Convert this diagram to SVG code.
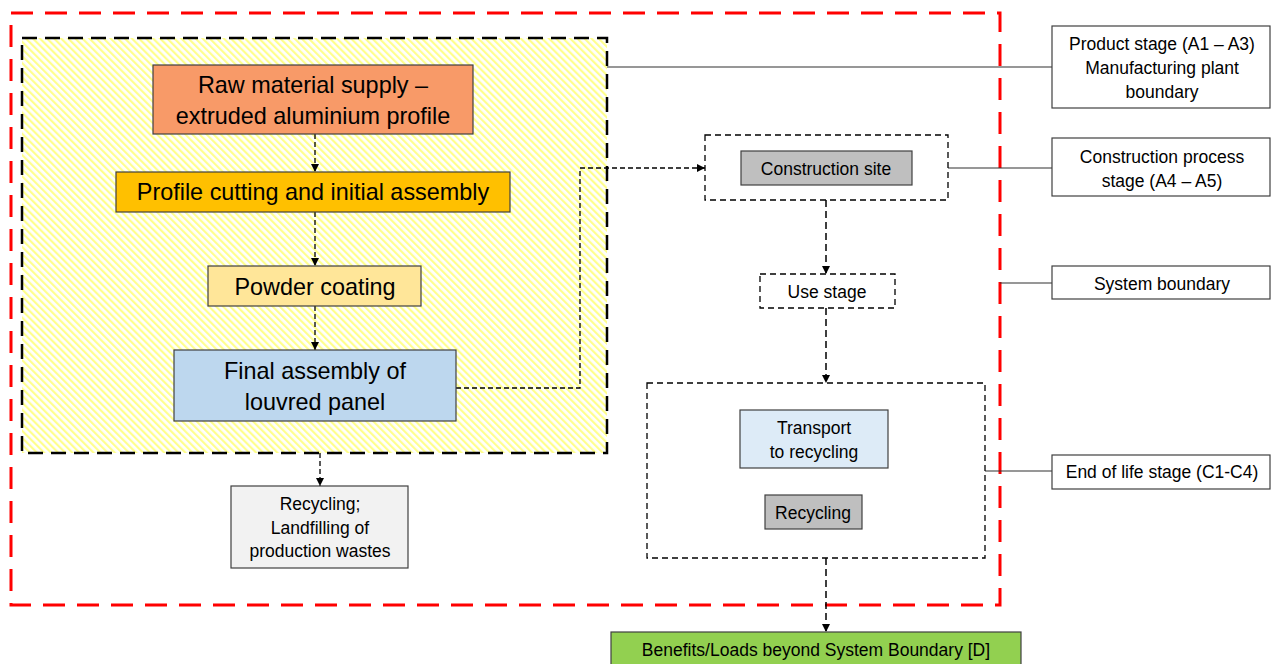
<svg xmlns="http://www.w3.org/2000/svg" width="1271" height="664" viewBox="0 0 1271 664">
<style>
  text { font-family: "Liberation Sans", Arial, sans-serif; fill: #000; text-anchor: middle; }
  .big { font-size: 23.4px; }
  .sm { font-size: 17.5px; }
  .box { stroke: #404040; stroke-width: 1.2; }
  .dbox { fill: #fff; stroke: #000; stroke-width: 1.3; stroke-dasharray: 6 4; }
  .arr { fill: none; stroke: #000; stroke-width: 1.3; stroke-dasharray: 5 3; marker-end: url(#ah); }
  .arr2 { fill: none; stroke: #000; stroke-width: 1.5; stroke-dasharray: 7 4; marker-end: url(#ah); }
  .lead { fill: none; stroke: #303030; stroke-width: 1.1; }
</style>
<defs>
  <pattern id="hatch" patternUnits="userSpaceOnUse" width="5" height="5" patternTransform="rotate(-45)">
    <rect width="5" height="5" fill="#ffffff"/>
    <rect x="0" y="0" width="2.2" height="5" fill="#FFFF8C"/>
  </pattern>
  <marker id="ah" viewBox="0 0 10 10" refX="10" refY="5" markerWidth="8" markerHeight="8" markerUnits="userSpaceOnUse" orient="auto">
    <path d="M0,0 L10,5 L0,10 Z" fill="#000"/>
  </marker>
</defs>
<rect width="1271" height="664" fill="#fff"/>

<g id="system-boundary">
  <rect x="11" y="13" width="989" height="592" fill="none" stroke="#FF0000" stroke-width="3" stroke-dasharray="22 12"/>
</g>

<g id="plant-boundary">
  <rect x="22" y="38" width="585" height="415" fill="url(#hatch)" stroke="#000" stroke-width="2.5" stroke-dasharray="15 8"/>
</g>

<g id="connectors">
  <path class="arr" d="M315,134 V172"/>
  <path class="arr" d="M315,212 V266"/>
  <path class="arr" d="M315,306 V350"/>
  <path class="arr" d="M456,388 H580 V168 H705"/>
  <path class="arr2" d="M826,200 V274"/>
  <path class="arr2" d="M826,308 V383"/>
  <path class="arr2" d="M826,558 V632"/>
  <path class="arr" d="M320,453 V486"/>
  <path class="lead" d="M607,67 H1052"/>
  <path class="lead" d="M948,168 H1052"/>
  <path class="lead" d="M1000,283 H1052"/>
  <path class="lead" d="M985,471 H1052"/>
</g>

<g id="raw-material">
  <rect class="box" x="153" y="65" width="320" height="69" fill="#F89A68"/>
  <text class="big" x="313" y="93">Raw material supply –</text>
  <text class="big" x="313" y="124">extruded aluminium profile</text>
</g>
<g id="profile-cutting">
  <rect class="box" x="116" y="172" width="394" height="40" fill="#FFC000"/>
  <text class="big" x="313" y="200">Profile cutting and initial assembly</text>
</g>
<g id="powder-coating">
  <rect class="box" x="208" y="266" width="213" height="40" fill="#FFE699"/>
  <text class="big" x="315" y="295">Powder coating</text>
</g>
<g id="final-assembly">
  <rect class="box" x="174" y="350" width="282" height="71" fill="#BDD7EE"/>
  <text class="big" x="315" y="379">Final assembly of</text>
  <text class="big" x="315" y="410">louvred panel</text>
</g>
<g id="production-wastes">
  <rect class="box" x="231" y="486" width="177" height="82" fill="#F2F2F2"/>
  <text class="sm" x="320" y="510">Recycling;</text>
  <text class="sm" x="320" y="534">Landfilling of</text>
  <text class="sm" x="320" y="557">production wastes</text>
</g>

<g id="construction-stage">
  <rect class="dbox" x="705" y="135" width="243" height="65"/>
  <rect class="box" x="741" y="151" width="171" height="34" fill="#BFBFBF"/>
  <text class="sm" x="826" y="175">Construction site</text>
</g>
<g id="use-stage">
  <rect class="dbox" x="760" y="274" width="135" height="34"/>
  <text class="sm" x="827" y="298">Use stage</text>
</g>
<g id="end-of-life">
  <rect class="dbox" x="647" y="383" width="338" height="175"/>
  <rect class="box" x="740" y="410" width="148" height="58" fill="#DDEBF7"/>
  <text class="sm" x="814" y="434">Transport</text>
  <text class="sm" x="814" y="458">to recycling</text>
  <rect class="box" x="765" y="495" width="97" height="34" fill="#BFBFBF"/>
  <text class="sm" x="813" y="519">Recycling</text>
</g>
<g id="benefits">
  <rect class="box" x="611" y="632" width="410" height="40" fill="#92D050"/>
  <text class="sm" x="816" y="656">Benefits/Loads beyond System Boundary [D]</text>
</g>

<g id="label-product">
  <rect class="box" x="1052" y="26" width="218" height="82" fill="#fff"/>
  <text class="sm" x="1162" y="50">Product stage (A1 – A3)</text>
  <text class="sm" x="1162" y="74">Manufacturing plant</text>
  <text class="sm" x="1162" y="98">boundary</text>
</g>
<g id="label-construction">
  <rect class="box" x="1052" y="138" width="218" height="58" fill="#fff"/>
  <text class="sm" x="1162" y="163">Construction process</text>
  <text class="sm" x="1162" y="187">stage (A4 – A5)</text>
</g>
<g id="label-system">
  <rect class="box" x="1052" y="266" width="218" height="33" fill="#fff"/>
  <text class="sm" x="1162" y="290">System boundary</text>
</g>
<g id="label-eol">
  <rect class="box" x="1052" y="455" width="218" height="34" fill="#fff"/>
  <text class="sm" x="1162" y="478">End of life stage (C1-C4)</text>
</g>
</svg>
